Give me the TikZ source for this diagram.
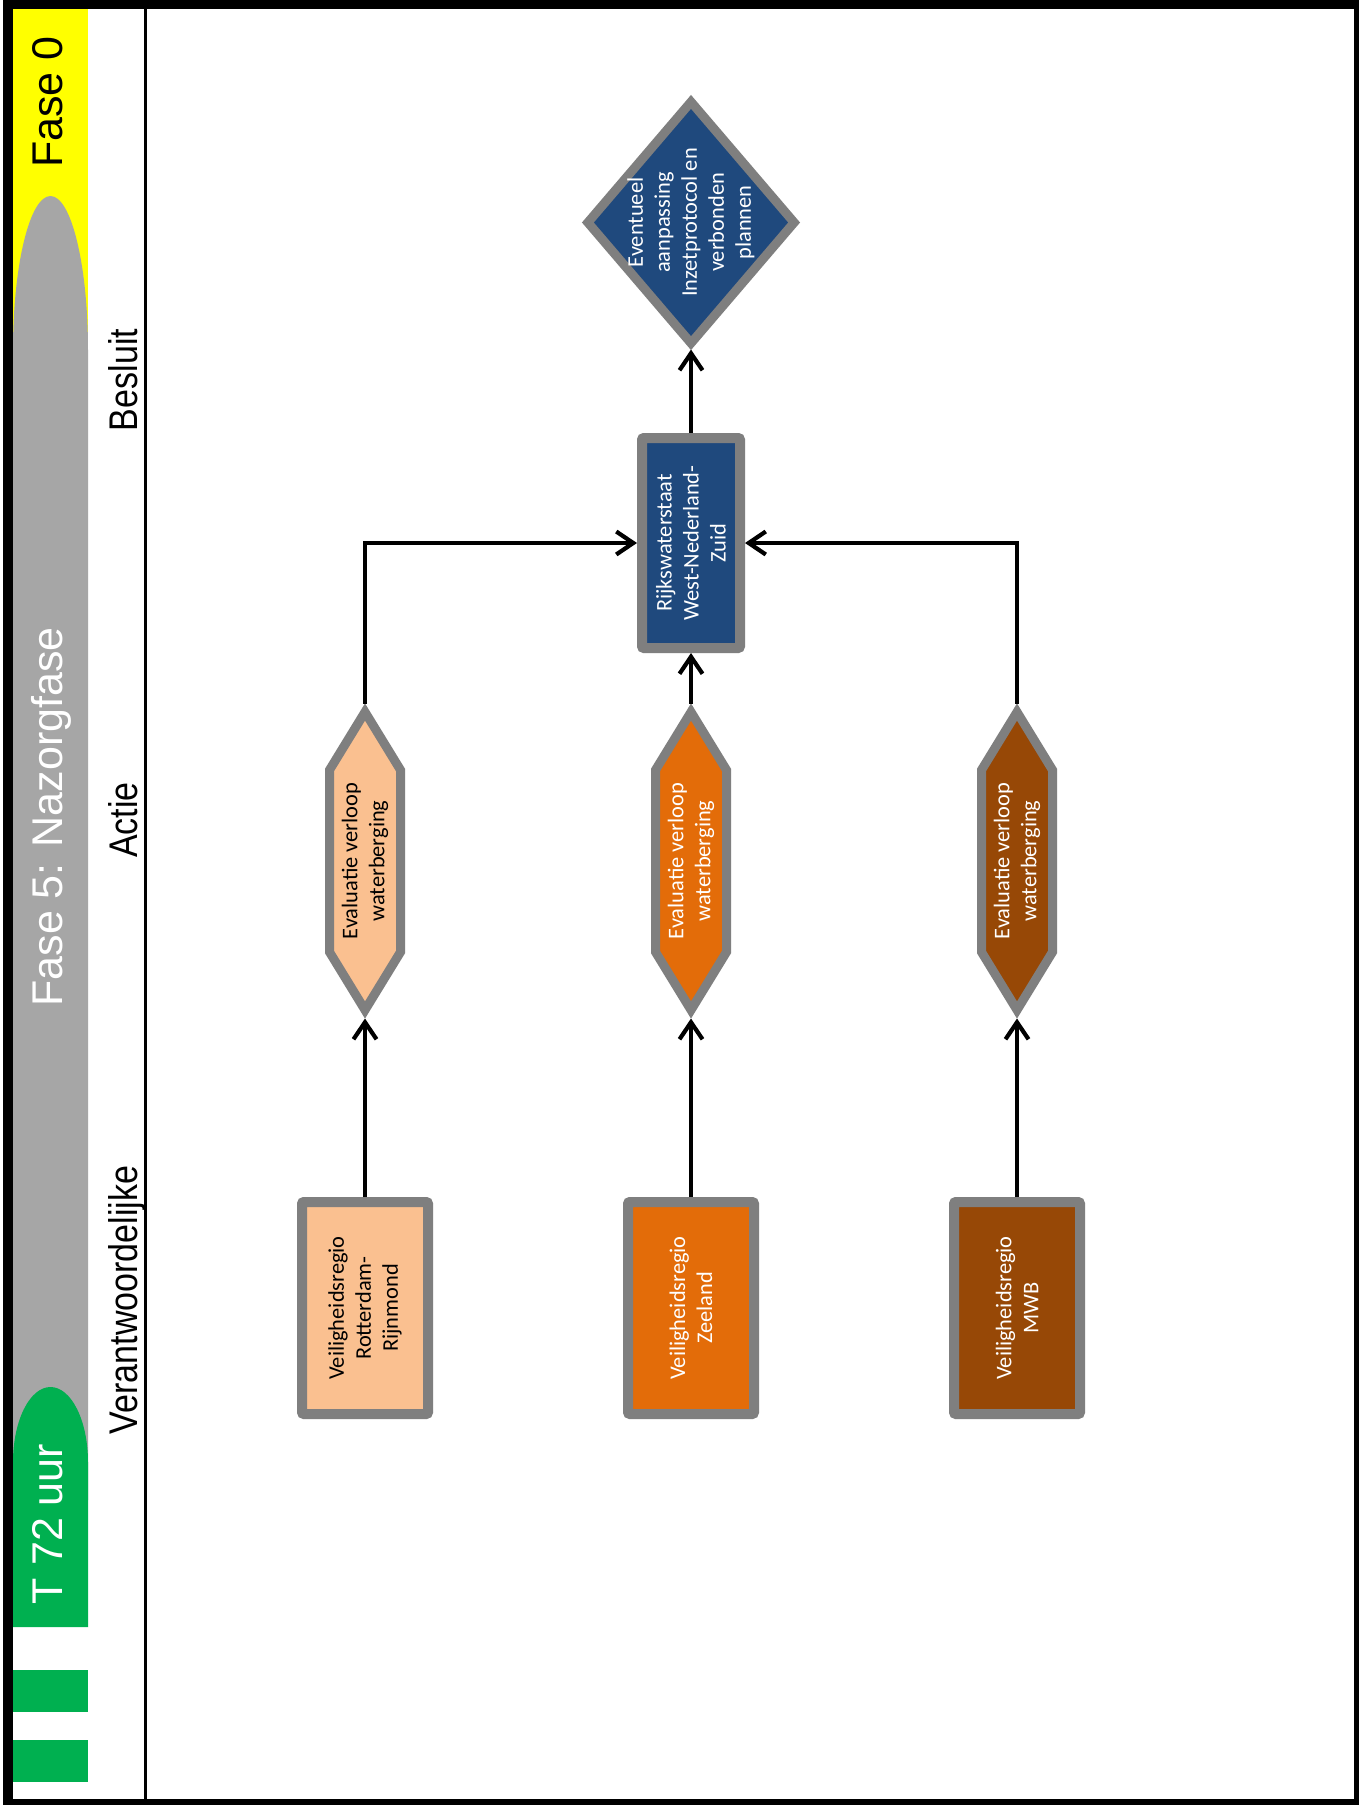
\documentclass[tikz,border=0pt]{standalone}
\usepackage{fontspec}
\usepackage{graphicx}
\setmainfont{Carlito}
\newfontfamily\arialf{Liberation Sans}
\newfontfamily\narrowf[FakeStretch=0.85]{Liberation Sans}
\usetikzlibrary{arrows.meta,shapes.geometric,calc}
\definecolor{peach}{HTML}{FAC090}
\definecolor{orangeC}{HTML}{E36C09}
\definecolor{brownC}{HTML}{974806}
\definecolor{blueC}{HTML}{1F497D}
\definecolor{strokeC}{HTML}{7F7F7F}
\definecolor{bandgray}{HTML}{A6A6A6}
\definecolor{greenC}{HTML}{00B050}
\definecolor{yellowC}{HTML}{FFFF00}
\begin{document}
\begin{tikzpicture}[x=1pt,y=-1pt,
  boxS/.style={rectangle, draw=strokeC, line width=10pt, minimum width=126pt, minimum height=212pt, inner sep=0pt, rounded corners=2pt},
  rwsS/.style={rectangle, draw=strokeC, fill=blueC, line width=10pt, minimum width=98pt, minimum height=210pt, inner sep=0pt, rounded corners=2pt},
  diamS/.style={diamond, draw=strokeC, fill=blueC, line width=9pt, minimum width=210pt, minimum height=245pt, inner sep=0pt},
  hexS/.style={draw=strokeC, line width=9pt, line join=miter},
  hexframe/.style={rectangle, minimum width=80pt, minimum height=315pt, inner sep=0pt, outer sep=0pt},
  lbl/.style={font=\fontsize{22.4}{27}\selectfont, align=center, inner sep=0pt, rotate=90},
  bandtxt/.style={font=\arialf\fontsize{43}{50}\selectfont, rotate=90, anchor=base, inner sep=0pt},
  headtxt/.style={font=\narrowf\fontsize{40}{48}\selectfont, rotate=90, anchor=base, inner sep=0pt},
  conn/.style={line width=3.2pt, -{Straight Barb[length=17pt,width=23pt,line width=4.2pt]}}
]
\useasboundingbox (0,0) rectangle (1359,1805);
% frame
\fill[white] (0,0) rectangle (1359,1805);
\fill[black] (3,0) rectangle (1359,1805);
\fill[white] (13,9) rectangle (1354,1799);
% phase band
\fill[yellowC] (13,9) rectangle (88,400);
\fill[bandgray] (13,1500) -- (13,350) arc[start angle=180,end angle=360,x radius=37.5,y radius=154] -- (88,1500) -- cycle;
\fill[greenC] (13,1627) -- (13,1462) arc[start angle=180,end angle=360,x radius=37.5,y radius=75] -- (88,1627) -- cycle;
\fill[greenC] (13,1670) rectangle (88,1712);
\fill[greenC] (13,1740) rectangle (88,1782);
\node[bandtxt] (f0) at (62,102) {Fase 0};
\node[bandtxt, text=white] (f5) at (62,817) {Fase 5: Nazorgfase};
\node[bandtxt, text=white] (t72) at (62,1524) {T 72 uur};
% headers
\node[headtxt] (hB) at (137,380) {Besluit};
\node[headtxt] (hA) at (137,820) {Actie};
\node[headtxt] (hV) at (137,1300) {Verantwoordelijke};
\draw[line width=3pt] (145,9) -- (145,1799);
% bottom boxes
\node[boxS, fill=peach] (b1) at (365,1308) {};
\node[boxS, fill=orangeC] (b2) at (691,1308) {};
\node[boxS, fill=brownC] (b3) at (1017,1308) {};
\node[lbl] (b1t) at (b1) {Veiligheidsregio\\Rotterdam-\\Rijnmond};
\node[lbl, text=white] (b2t) at (b2) {Veiligheidsregio\\Zeeland};
\node[lbl, text=white] (b3t) at (b3) {Veiligheidsregio\\MWB};
% hexagons
\draw[hexS, fill=peach, shift={(365,861)}] (0,-149) -- (35.5,-91) -- (35.5,91) -- (0,149) -- (-35.5,91) -- (-35.5,-91) -- cycle;
\draw[hexS, fill=orangeC, shift={(691,861)}] (0,-149) -- (35.5,-91) -- (35.5,91) -- (0,149) -- (-35.5,91) -- (-35.5,-91) -- cycle;
\draw[hexS, fill=brownC, shift={(1017,861)}] (0,-149) -- (35.5,-91) -- (35.5,91) -- (0,149) -- (-35.5,91) -- (-35.5,-91) -- cycle;
\node[hexframe] (h1) at (365,861) {};
\node[hexframe] (h2) at (691,861) {};
\node[hexframe] (h3) at (1017,861) {};
\node[lbl] (h1t) at (h1) {Evaluatie verloop\\waterberging};
\node[lbl, text=white] (h2t) at (h2) {Evaluatie verloop\\waterberging};
\node[lbl, text=white] (h3t) at (h3) {Evaluatie verloop\\waterberging};
% RWS and diamond
\node[rwsS] (rws) at (691,543) {};
\node[lbl, text=white] (rwst) at (rws) {Rijkswaterstaat\\West-Nederland-\\Zuid};
\node[diamS] (d) at (691,222.5) {};
\node[lbl, text=white] (dt) at (d) {Eventueel\\aanpassing\\Inzetprotocol en\\verbonden\\plannen};
% connectors
\draw[conn] (b1.north) -- (h1.south);
\draw[conn] (b2.north) -- (h2.south);
\draw[conn] (b3.north) -- (h3.south);
\draw[conn] (h1.north) |- (rws.west);
\draw[conn] (h2.north) -- (rws.south);
\draw[conn] (h3.north) |- (rws.east);
\draw[conn] (rws.north) -- (d.south);
\end{tikzpicture}
\end{document}
